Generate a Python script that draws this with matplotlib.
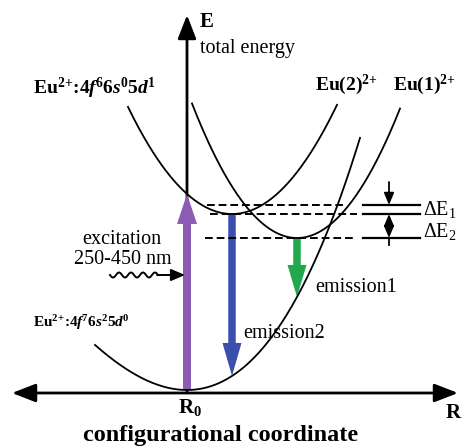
import numpy as np
import matplotlib
matplotlib.use('Agg')
import matplotlib.pyplot as plt
import matplotlib.transforms as mtransforms
from matplotlib.patches import FancyArrowPatch

plt.rcParams['font.family'] = 'Liberation Serif'
plt.rcParams['mathtext.fontset'] = 'custom'
plt.rcParams['mathtext.rm'] = 'Liberation Serif:bold'
plt.rcParams['mathtext.it'] = 'Liberation Serif:italic'
plt.rcParams['mathtext.bf'] = 'Liberation Serif:bold'
plt.rcParams['mathtext.bfit'] = 'Liberation Serif:italic:bold'

# potential curves: (R at minimum, E at minimum, curvature, R range)
ground_k2, ground_k3 = 0.64, 0.117
ground_range = (-0.92, 1.73)
eu2_min = (0.45, 1.76)
eu2_k = 0.99
eu2_range = (-0.59, 1.50)
eu1_min = (1.10, 1.52)
eu1_k = 1.22
eu1_range = (0.05, 2.13)

# energy levels (dashed + marker lines on the right)
levels = [1.85, 1.76, 1.52]
dash_start = [0.20, 0.23, 0.18]
dash_end = [1.56, 1.70, 1.66]
marker_span = (1.76, 2.33)

colors = {'exc': '#8a5cb4', 'em2': '#3a4fae', 'em1': '#22a84c'}


def ground(r):
    return ground_k2 * r**2 + ground_k3 * r**3


def excited(r, rmin, emin, k):
    return emin + k * (r - rmin)**2


fig = plt.figure(figsize=(4.63, 4.47), dpi=100)
ax = fig.add_axes([0, 0, 1, 1])
ax.set_xlim(-1.87, 2.76)
ax.set_ylim(-0.57, 3.90)
ax.axis('off')

# pixel coords for labels/decoration
pix = mtransforms.Affine2D().scale(1 / 463, -1 / 447).translate(0, 1) + fig.transFigure

# axes
ax.add_patch(FancyArrowPatch((-1.75, -0.03), (2.71, -0.03), arrowstyle='<|-|>,head_length=0.9,head_width=0.35',
                             mutation_scale=16, lw=2, color='black', shrinkA=0, shrinkB=0))
ax.add_patch(FancyArrowPatch((0, -0.03), (0, 3.75), arrowstyle='-|>,head_length=0.9,head_width=0.35',
                             mutation_scale=16, lw=2, color='black', shrinkA=0, shrinkB=0))

# curves
r = np.linspace(*ground_range, 200)
ax.plot(r, ground(r), color='black', lw=1.3)
r = np.linspace(*eu2_range, 200)
ax.plot(r, excited(r, eu2_min[0], eu2_min[1], eu2_k), color='black', lw=1.3)
r = np.linspace(*eu1_range, 200)
ax.plot(r, excited(r, eu1_min[0], eu1_min[1], eu1_k), color='black', lw=1.3)

# levels
for e, a, b in zip(levels, dash_start, dash_end):
    ax.plot([a, b], [e, e], color='black', lw=1.4, ls=(0, (4, 2)))
    ax.plot(marker_span, [e, e], color='black', lw=1.6)

# transitions
e_top = excited(0, eu2_min[0], eu2_min[1], eu2_k)
ax.arrow(0, 0, 0, e_top, width=0.08, head_width=0.2, head_length=0.3,
         length_includes_head=True, color=colors['exc'], lw=0)
ax.arrow(eu2_min[0], eu2_min[1], 0, ground(eu2_min[0]) - eu2_min[1], width=0.075, head_width=0.19,
         head_length=0.33, length_includes_head=True, color=colors['em2'], lw=0)
ax.arrow(eu1_min[0], eu1_min[1], 0, ground(eu1_min[0]) - eu1_min[1], width=0.075, head_width=0.19,
         head_length=0.32, length_includes_head=True, color=colors['em1'], lw=0)

# delta E markers
xm = 2.02
ax.add_patch(FancyArrowPatch((xm, levels[0] + 0.23), (xm, levels[0]), arrowstyle='-|>,head_length=0.6,head_width=0.25',
                             mutation_scale=12, lw=1.3, color='black', shrinkA=0, shrinkB=0))
ax.add_patch(FancyArrowPatch((xm, levels[1]), (xm, levels[2]), arrowstyle='<|-|>,head_length=0.6,head_width=0.25',
                             mutation_scale=12, lw=1.3, color='black', shrinkA=0, shrinkB=0))
ax.plot([xm, xm], [levels[2], levels[2] - 0.07], color='black', lw=1.3)

# wavy excitation arrow
wx = np.linspace(110, 158, 100)
ax.plot(wx, 275 + 2.5 * np.sin((wx - 110) / 12 * 2 * np.pi), color='black', lw=1.4, transform=pix)
ax.add_patch(FancyArrowPatch((157, 275), (185, 275), arrowstyle='-|>,head_length=0.7,head_width=0.3',
                             mutation_scale=12, lw=1.4, color='black', transform=pix, shrinkA=0, shrinkB=0))

# labels (mathtext rm is bold here, so sup/sub digits come out bold)
ion = r'$^{2\!+\!}$'
ax.text(200, 22, 'E', fontsize=15, fontweight='bold', va='center', transform=pix)
ax.text(200, 48, 'total energy', fontsize=14.5, va='center', transform=pix)
ax.text(33, 88, 'Eu' + ion + r':4$\mathbfit{f}^{6}$6$\mathbfit{s}^{0}$5$\mathbfit{d}^{1}$',
        fontsize=14, fontweight='bold', va='center', transform=pix)
ax.text(33, 323, 'Eu' + ion + r':4$\mathbfit{f}^{7}$6$\mathbfit{s}^{2}$5$\mathbfit{d}^{0}$',
        fontsize=11, fontweight='bold', va='center', transform=pix)
ax.text(315, 85, 'Eu(2)' + ion, fontsize=14, fontweight='bold', va='center', transform=pix)
ax.text(393, 85, 'Eu(1)' + ion, fontsize=14, fontweight='bold', va='center', transform=pix)
ax.text(122, 240, 'excitation', fontsize=14.5, ha='center', va='center', transform=pix)
ax.text(123, 259, '250-450 nm', fontsize=14.5, ha='center', va='center', transform=pix)
ax.text(315, 287, 'emission1', fontsize=14.5, va='center', transform=pix)
ax.text(243, 334, 'emission2', fontsize=14.5, va='center', transform=pix)
ax.text(423, 210, 'ΔE$_{\\mathregular{1}}$', fontsize=14.5, va='center', transform=pix)
ax.text(423, 232, 'ΔE$_{\\mathregular{2}}$', fontsize=14.5, va='center', transform=pix)
ax.text(190, 408, r'R$_{0}$', fontsize=15, fontweight='bold', ha='center', va='center', transform=pix)
ax.text(453, 413, 'R', fontsize=15, fontweight='bold', ha='center', va='center', transform=pix)
ax.text(221, 435, 'configurational coordinate', fontsize=17.5, fontweight='bold', ha='center', va='center',
        transform=pix)

fig.savefig('out.png', dpi=100)
